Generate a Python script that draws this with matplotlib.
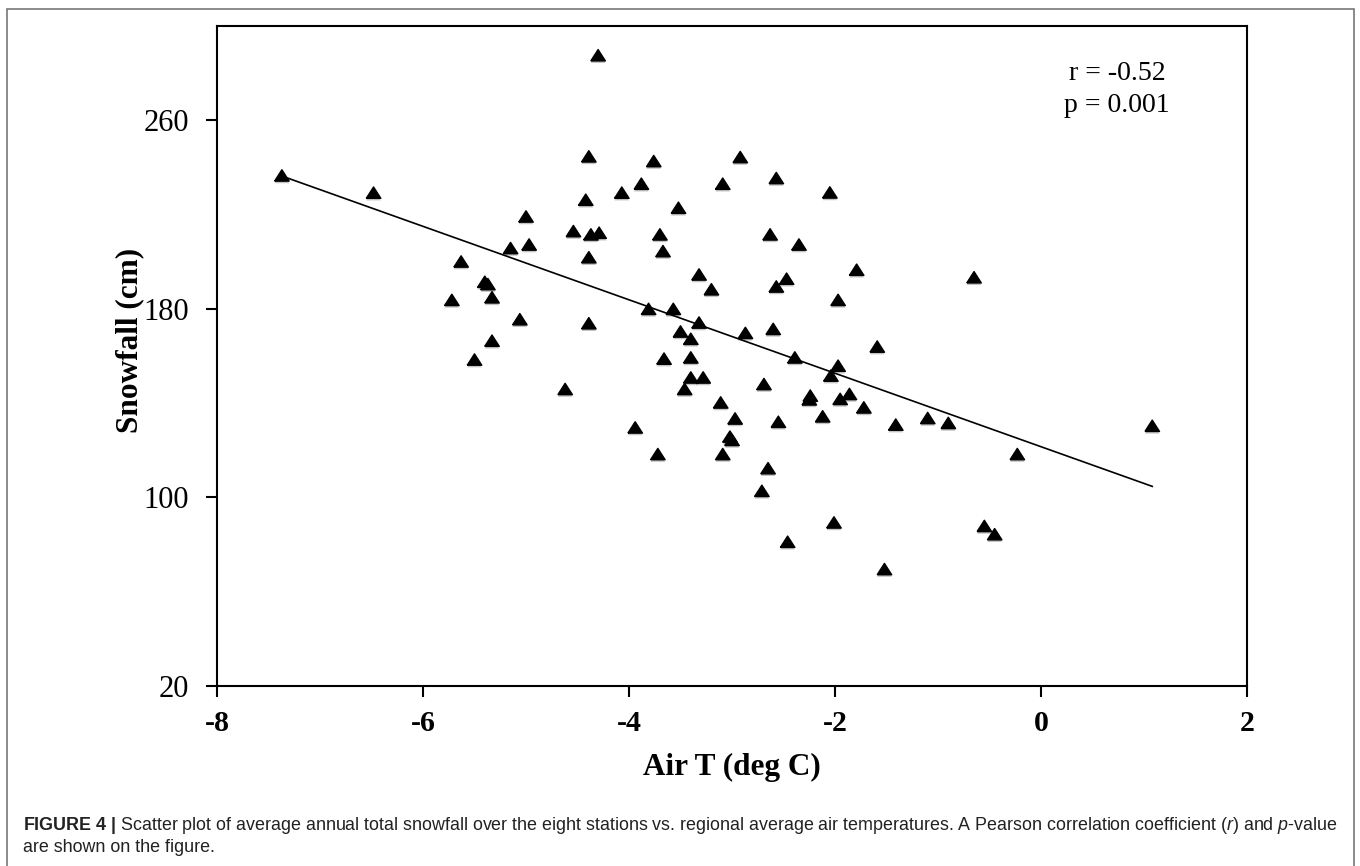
import numpy as np
import matplotlib
matplotlib.use("Agg")
import matplotlib.pyplot as plt
import matplotlib.patheffects as pe
from matplotlib.patches import Rectangle

# air temperature (deg C) and snowfall (cm)
air_t = [-7.37, -6.48, -4.30, -4.39, -4.42, -4.07, -3.88, -5.00, -4.54, -4.37,
         -4.29, -5.15, -4.97, -4.39, -5.63, -5.40, -5.37, -5.33, -5.72, -5.06,
         -4.39, -5.33, -5.50, -4.62, -3.94,
         -3.76, -2.92, -3.09, -2.57, -2.05, -3.52, -3.70, -3.67, -2.63, -2.35,
         -3.32, -3.20, -2.47, -2.57, -1.79, -0.65, -1.97, -3.81, -3.57, -3.32,
         -3.50, -3.40, -2.87, -2.60, -1.59, -3.66, -3.40, -3.40, -3.28, -2.39,
         -1.97, -2.04, -2.69, -3.46,
         -3.11, -2.24, -2.25, -1.95, -1.86, -1.72, -2.97, -2.55, -2.12, -1.41,
         -1.10, -0.90, 1.08, -3.02, -3.00, -3.72, -3.09, -0.23, -2.65, -2.71,
         -2.01, -0.55, -0.45, -2.46, -1.52]
snowfall = [236.6, 229.3, 287.6, 244.7, 226.3, 229.3, 233.1, 219.2, 213.0, 211.6,
            212.3, 205.8, 207.3, 201.9, 200.1, 191.5, 190.5, 184.9, 183.8, 175.6,
            173.9, 166.5, 158.5, 146.0, 129.7,
            242.7, 244.4, 233.1, 235.5, 229.4, 222.9, 211.6, 204.5, 211.6, 207.3,
            194.6, 188.3, 192.8, 189.5, 196.6, 193.4, 183.8, 180.0, 180.0, 174.2,
            170.4, 167.3, 169.8, 171.5, 164.0, 158.9, 159.4, 150.9, 150.9, 159.4,
            155.9, 151.7, 148.1, 146.0,
            140.3, 143.2, 141.6, 141.8, 143.9, 138.2, 133.5, 132.1, 134.4, 130.9,
            133.7, 131.6, 130.4, 125.8, 124.4, 118.4, 118.4, 118.4, 112.4, 102.8,
            89.4, 87.9, 84.4, 81.2, 69.6]

x_ticks = [-8, -6, -4, -2, 0, 2]
y_ticks = [20, 100, 180, 260]
stats_text = "r = -0.52\np = 0.001"

plt.rcParams['mathtext.fontset'] = 'custom'
plt.rcParams['mathtext.rm'] = 'Liberation Sans'
plt.rcParams['mathtext.it'] = 'Liberation Sans:italic'
plt.rcParams['mathtext.bf'] = 'Liberation Sans:bold'

fig = plt.figure(figsize=(13.6, 8.66), dpi=100)
ax = fig.add_axes([217 / 1360, 1 - 686 / 866, (1247 - 217) / 1360, (686 - 26) / 866])

x = np.array(air_t)
y = np.array(snowfall)

tri = [(-1, -0.78), (1, -0.78), (0, 0.78), (-1, -0.78)]
ax.plot(x, y, linestyle='none', marker=tri, markersize=10.5, color='black',
        path_effects=[pe.SimplePatchShadow(offset=(0, -1.5), shadow_rgbFace='#888888',
                                           alpha=0.5), pe.Normal()])

# linear trend over the data range
k, b = np.polyfit(x, y, 1)
xs = np.array([x.min(), x.max()])
ax.plot(xs, k * xs + b, color='black', lw=1.2)

ax.set_xlim(-8, 2)
ax.set_ylim(20, 300)
ax.set_xticks(x_ticks)
ax.set_yticks(y_ticks)
ax.set_xticklabels([str(t) for t in x_ticks], fontfamily='Liberation Serif',
                   fontweight='bold', fontsize=21.5)
ax.set_yticklabels([str(t) for t in y_ticks], fontfamily='Liberation Serif',
                   fontsize=22)
ax.tick_params(axis='both', direction='out', length=8, width=1.5)
ax.tick_params(axis='x', pad=9)
ax.tick_params(axis='y', pad=12)
for s in ax.spines.values():
    s.set_linewidth(1.5)

ax.text(0.74, 273, stats_text, ha='center', va='center', fontsize=20,
        fontfamily='Liberation Serif', linespacing=1.35)

fig.text((217 + 1247) / 2 / 1360, 1 - 767 / 866, "Air T (deg C)", ha='center',
         va='center', fontsize=22.5, fontweight='bold', fontfamily='Liberation Serif')
fig.text(130 / 1360, 1 - 340 / 866, "Snowfall (cm)", ha='center', va='center',
         rotation=90, fontsize=22.5, fontweight='bold', fontfamily='Liberation Serif')

# caption
cap1 = (r"$\bf{FIGURE\ 4\ |}$ Scatter plot of average annual total snowfall over the eight "
        r"stations vs. regional average air temperatures. A Pearson correlation coefficient "
        r"($\it{r}$) and $\it{p}$-value")
cap2 = "are shown on the figure."
fig.text(23 / 1360, 1 - 830 / 866, cap1, ha='left', va='baseline', fontsize=12.9,
         fontfamily='Liberation Sans', color='#222222')
fig.text(23 / 1360, 1 - 852 / 866, cap2, ha='left', va='baseline', fontsize=12.9,
         fontfamily='Liberation Sans', color='#222222')

fig.patches.append(Rectangle((7 / 1360, -0.05), (1354 - 7) / 1360, 1.05 - 9 / 866,
                             transform=fig.transFigure, fill=False,
                             edgecolor='#777777', lw=1.2))

fig.savefig("out.png", dpi=100)
